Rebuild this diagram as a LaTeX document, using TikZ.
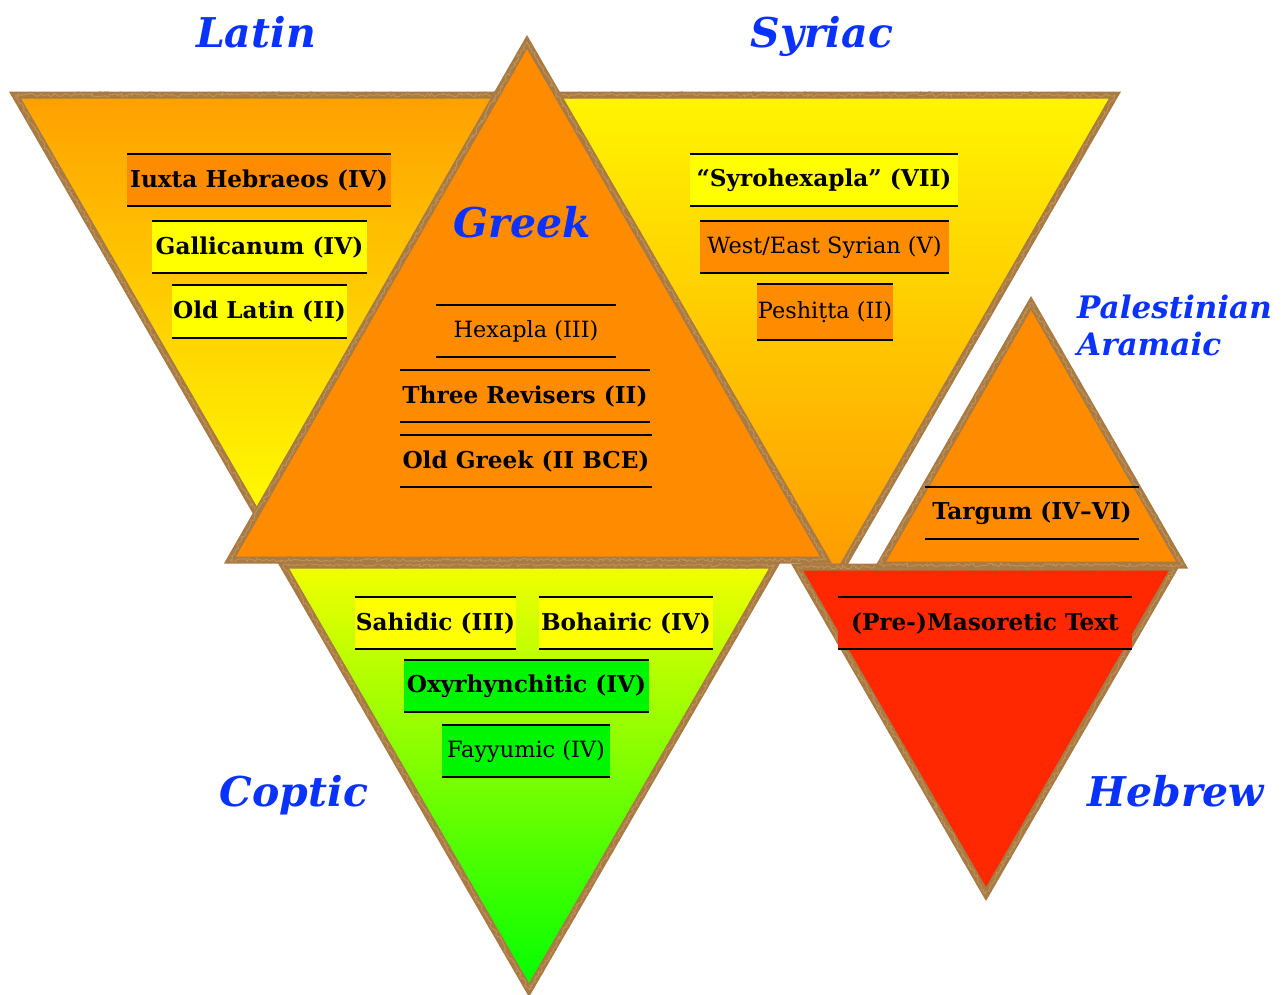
\documentclass[tikz,border=0pt]{standalone}
\usepackage{fontspec}
\setmainfont{DejaVu Serif}
\usetikzlibrary{decorations.pathmorphing}
\definecolor{brd}{RGB}{168,122,68}
\definecolor{brdl}{RGB}{190,145,85}
\definecolor{dorange}{RGB}{255,140,0}
\definecolor{yel}{RGB}{255,255,0}
\definecolor{lgreen}{RGB}{0,245,0}
\definecolor{hred}{RGB}{255,40,0}
\definecolor{tblue}{RGB}{10,50,255}
\definecolor{latTop}{RGB}{255,160,0}
\definecolor{latBot}{RGB}{255,252,0}
\definecolor{syrTop}{RGB}{255,245,0}
\definecolor{syrBot}{RGB}{255,150,0}
\definecolor{copTop}{RGB}{242,255,0}
\definecolor{copBot}{RGB}{0,255,0}
\newcommand\mytri[4]{%
  \path[#1] #2 -- #3 -- #4 -- cycle;
  \draw[border] #2 -- #3 -- #4 -- cycle;
  \draw[roughb] #2 -- #3 -- #4 -- cycle;
  \draw[roughc] #2 -- #3 -- #4 -- cycle;
}
\begin{document}
\begin{tikzpicture}[x=1pt,y=-1pt,
  border/.style={draw=brd,line width=7pt,line join=miter},
  roughb/.style={draw=brd,line width=3pt,line join=round,line cap=round,decorate,
    decoration={random steps,segment length=1.5pt,amplitude=2.2pt}},
  roughc/.style={draw=brdl,line width=1pt,line join=round,line cap=round,decorate,
    decoration={random steps,segment length=2pt,amplitude=1.8pt}},
  lab/.style={inner sep=0pt,minimum height=52pt,text=black,
    font=\fontsize{23.2}{26}\selectfont\bfseries},
  labn/.style={lab,font=\fontsize{22.4}{26}\selectfont},
  rule/.style={line width=2.2pt,black},
  ttl/.style={text=tblue,inner sep=0pt,anchor=base,
    font=\fontsize{41}{45}\selectfont\bfseries\itshape}]
\useasboundingbox[fill=white] (0,0) rectangle (1283,994);

% Latin
\mytri{top color=latTop,bottom color=latBot}{(15,95)}{(505,95)}{(260,519)}
% Syriac
\mytri{top color=syrTop,bottom color=syrBot}{(535,95)}{(1115,95)}{(825,597)}
% Coptic
\mytri{top color=copTop,bottom color=copBot}{(283,565)}{(775,565)}{(529,990)}
% Hebrew
\mytri{fill=hred}{(797,567)}{(1175,567)}{(986,894)}
% Palestinian Aramaic
\mytri{fill=dorange}{(1031,303)}{(880,565)}{(1182,565)}
% Greek
\mytri{fill=dorange}{(527,42)}{(230,560)}{(826,560)}

% Latin labels
\node[lab,fill=dorange,minimum width=264] (iuxta) at (259,180) {Iuxta Hebraeos (IV)};
\node[lab,fill=yel,minimum width=215] (gall) at (259.5,247) {Gallicanum (IV)};
\node[lab,fill=yel,minimum width=175] (oldlat) at (259.5,311.5) {Old Latin (II)};
% Greek labels
\node[labn,minimum width=180] (hex) at (526,331) {Hexapla (III)};
\node[lab,minimum width=250] (three) at (525,396) {Three Revisers (II)};
\node[lab,minimum width=252] (oldgr) at (526,461) {Old Greek (II BCE)};
% Syriac labels
\node[lab,fill=yel,minimum width=268] (syro) at (824,180) {“Syrohexapla” (VII)};
\node[labn,fill=dorange,minimum width=249] (wes) at (824.5,247) {West/East Syrian (V)};
\node[labn,fill=dorange,minimum width=136,minimum height=56] (pesh) at (825,312) {Peshiṭta (II)};
% Aramaic
\node[lab,minimum width=213] (targ) at (1032,513) {Targum (IV--VI)};
% Hebrew
\node[lab,fill=hred,minimum width=294] (maso) at (985,623) {(Pre-)Masoretic Text};
% Coptic
\node[lab,fill=yel,minimum width=161] (sah) at (435.5,623) {Sahidic (III)};
\node[lab,fill=yel,minimum width=174] (boh) at (626,623) {Bohairic (IV)};
\node[lab,fill=lgreen,minimum width=245] (oxy) at (526.5,686) {Oxyrhynchitic (IV)};
\node[labn,fill=lgreen,minimum width=168] (fay) at (526,751) {Fayyumic (IV)};

\foreach \n in {iuxta,gall,oldlat,hex,three,oldgr,syro,wes,pesh,targ,maso,sah,boh,oxy,fay}
  \draw[rule] (\n.north west) -- (\n.north east) (\n.south west) -- (\n.south east);

% titles
\node[ttl] (tlatin) at (256,47) {Latin};
\node[ttl] (tsyr) at (822,47) {Syriac};
\node[ttl] (tgreek) at (522,237) {Greek};
\node[ttl,anchor=base west,font=\fontsize{31}{34}\selectfont\bfseries\itshape] (tpal) at (1077,318) {Palestinian};
\node[ttl,anchor=base west,font=\fontsize{31}{34}\selectfont\bfseries\itshape] (taram) at (1077,355) {Aramaic};
\node[ttl] (tcop) at (294,806) {Coptic};
\node[ttl] (theb) at (1176,806) {Hebrew};
\end{tikzpicture}
\end{document}
